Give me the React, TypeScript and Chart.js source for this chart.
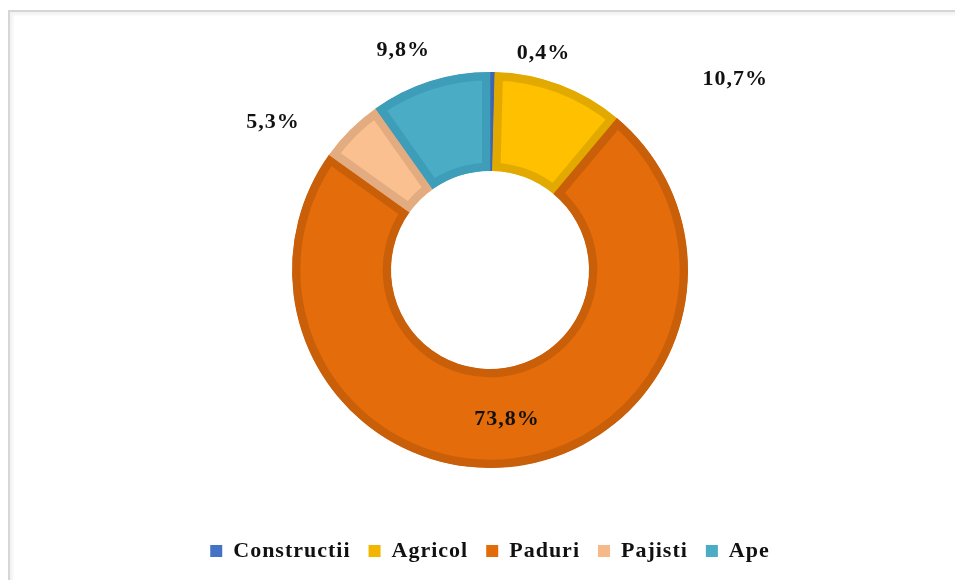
import React, { useEffect, useRef } from "react";
import { Chart, registerables } from "chart.js";

Chart.register(...registerables);

const categories = ["Constructii", "Agricol", "Paduri", "Pajisti", "Ape"];
const shares = [0.4, 10.7, 73.8, 5.3, 9.8];

const fillColors = ["#4472C4", "#FFC000", "#E46C0A", "#FAC090", "#4BACC6"];
const edgeColors = ["#3E66AE", "#E2AA00", "#C95F09", "#E3AB80", "#3E9DB8"];
const legendColors = ["#4472C4", "#F2B600", "#E26B0A", "#F6BA8A", "#4BACC6"];

// label placement: angle offset (deg) from slice middle, distance as ratio of outer radius
const labelAngleOffset = [13.15, 31.4, 0.7, -10.9, -3.9];
const labelRadiusRatio = [1.129, 1.57, 0.757, 1.327, 1.194];

const FONT = "'Liberation Serif', 'Times New Roman', serif";

const spacingPlugin = {
  id: "letterSpacing",
  beforeLayout(chart: any) {
    (chart.ctx as any).letterSpacing = "1px";
  },
  beforeDraw(chart: any) {
    (chart.ctx as any).letterSpacing = "1px";
  },
};

const labelPlugin = {
  id: "sliceLabels",
  afterDatasetsDraw(chart: any) {
    const ctx = chart.ctx;
    const meta = chart.getDatasetMeta(0);
    ctx.save();
    (ctx as any).letterSpacing = "1px";
    ctx.font = `bold 22px ${FONT}`;
    ctx.fillStyle = "#111";
    ctx.textAlign = "center";
    ctx.textBaseline = "middle";
    meta.data.forEach((arc: any, i: number) => {
      const { x, y, startAngle, endAngle, outerRadius } = arc.getProps(
        ["x", "y", "startAngle", "endAngle", "outerRadius"],
        true
      );
      const mid = (startAngle + endAngle) / 2 + (labelAngleOffset[i] * Math.PI) / 180;
      const r = outerRadius * labelRadiusRatio[i];
      const text = shares[i].toFixed(1).replace(".", ",") + "%";
      ctx.fillText(text, x + Math.cos(mid) * r, y + Math.sin(mid) * r);
    });
    ctx.restore();
  },
};

export default function App() {
  const canvasRef = useRef<HTMLCanvasElement | null>(null);

  useEffect(() => {
    if (!canvasRef.current) return;
    const chart = new Chart(canvasRef.current, {
      type: "doughnut",
      data: {
        labels: categories,
        datasets: [
          {
            data: shares,
            backgroundColor: fillColors,
            borderColor: edgeColors,
            borderWidth: 8,
            borderAlign: "inner",
          } as any,
        ],
      },
      options: {
        animation: false,
        responsive: false,
        maintainAspectRatio: false,
        devicePixelRatio: 1,
        radius: 198,
        cutout: "50%",
        layout: { padding: { top: 18, left: 25, right: 0, bottom: 8 } },
        plugins: {
          tooltip: { enabled: false },
          legend: {
            position: "bottom",
            labels: {
              boxWidth: 12,
              boxHeight: 12,
              padding: 18,
              color: "#111",
              font: { family: FONT, size: 22, weight: "bold" },
              generateLabels: () =>
                categories.map((name, i) => ({
                  text: name,
                  fillStyle: legendColors[i],
                  strokeStyle: "rgba(0,0,0,0)",
                  lineWidth: 0,
                  hidden: false,
                  index: i,
                  fontColor: "#111",
                })),
            },
          },
        },
      } as any,
      plugins: [spacingPlugin, labelPlugin],
    });
    return () => chart.destroy();
  }, []);

  return (
    <div>
      <div
        style={{
          position: "fixed",
          left: 8,
          top: 10,
          right: 0,
          bottom: 0,
          borderTop: "2px solid #d6d6d6",
          borderLeft: "2px solid #d6d6d6",
          boxShadow: "inset 3px 3px 3px #f3f3f3",
          background: "#fff",
        }}
      />
      <canvas
        ref={canvasRef}
        width={955}
        height={580}
        style={{ position: "fixed", left: 0, top: 0, width: 955, height: 580 }}
      />
    </div>
  );
}
